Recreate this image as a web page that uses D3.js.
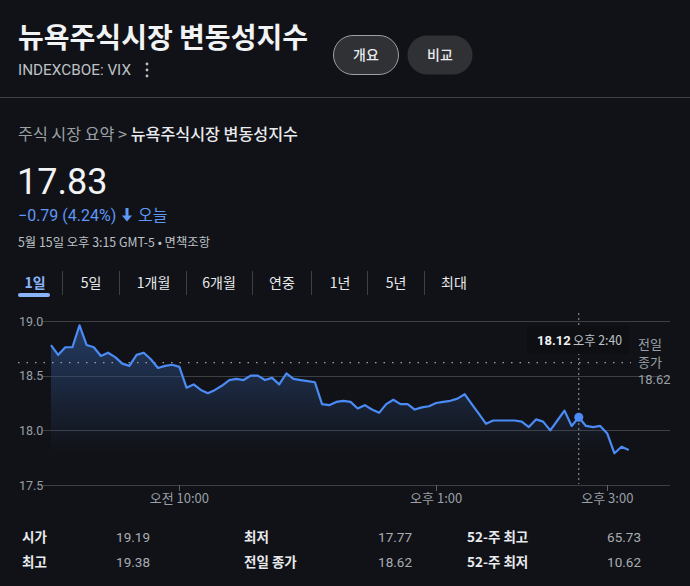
<!DOCTYPE html>
<html><head><meta charset="utf-8">
<script src="https://cdn.jsdelivr.net/npm/d3@7"></script>
<style>
html,body{margin:0;padding:0;background:#111217;}
svg{display:block;font-family:Roboto,"Noto Sans CJK KR",Arial,sans-serif;}
</style></head>
<body><svg id="c" width="690" height="586"></svg>
<script>
const times = ["08:30","08:35","08:40","08:45","08:50","08:55","09:00","09:05","09:10","09:15","09:20","09:25",
"09:30","09:35","09:40","09:45","09:50","09:55","10:00","10:05","10:10","10:15","10:20","10:25",
"10:30","10:35","10:40","10:45","10:50","10:55","11:00","11:05","11:10","11:15","11:20","11:25",
"11:30","11:35","11:40","11:45","11:50","11:55","12:00","12:05","12:10","12:15","12:20","12:25",
"12:30","12:35","12:40","12:45","12:50","12:55","13:00","13:05","13:10","13:15","13:20","13:25",
"13:30","13:35","13:40","13:45","13:50","13:55","14:00","14:05","14:10","14:15","14:20","14:25",
"14:30","14:35","14:40","14:45","14:50","14:55","15:00","15:05","15:10","15:15"];
const values = [18.78,18.69,18.76,18.76,18.96,18.78,18.76,18.68,18.71,18.67,18.61,18.59,
18.69,18.71,18.65,18.57,18.59,18.60,18.58,18.39,18.42,18.37,18.34,18.37,
18.41,18.46,18.47,18.46,18.50,18.50,18.46,18.48,18.42,18.52,18.47,18.46,
18.45,18.44,18.24,18.23,18.26,18.27,18.26,18.20,18.23,18.19,18.16,18.24,
18.28,18.24,18.24,18.19,18.21,18.22,18.25,18.26,18.27,18.29,18.33,18.24,
18.15,18.06,18.09,18.09,18.09,18.09,18.08,18.03,18.10,18.08,18.00,18.09,
18.18,18.04,18.12,18.04,18.03,18.04,17.97,17.79,17.85,17.82];
const yTicks = [17.5, 18.0, 18.5, 19.0];
const xTickTimes = ["10:00","13:00","15:00"];
const xTickLabels = ["오전 10:00","오후 1:00","오후 3:00"];
const prevClose = 18.62;
const hoverTime = "14:40";
const tabs = ["1일","5일","1개월","6개월","연중","1년","5년","최대"];
const statLabels = [["시가","최고"],["최저","전일 종가"],["52-주 최고","52-주 최저"]];
const statValues = [["19.19","19.38"],["17.77","18.62"],["65.73","10.62"]];

const svg = d3.select("#c");
const toMin = t => { const [h,m] = t.split(":").map(Number); return h*60+m; };
const data = times.map((t,i)=>({m:toMin(t), v:values[i]}));
const KR = "'Noto Sans CJK KR',sans-serif";

// Header
svg.append("text").attr("x",18).attr("y",48).attr("fill","#f1f3f4")
  .attr("font-size",28).attr("font-weight",700).attr("font-family",KR)
  .attr("textLength",290).attr("lengthAdjust","spacingAndGlyphs")
  .text("뉴욕주식시장 변동성지수");
svg.append("text").attr("x",18).attr("y",75).attr("fill","#bdc1c6").attr("font-size",14.5)
  .attr("textLength",113).attr("lengthAdjust","spacingAndGlyphs")
  .text("INDEXCBOE: VIX");
[64,70,76].forEach(y=>svg.append("circle").attr("cx",147).attr("cy",y).attr("r",1.4).attr("fill","#bdc1c6"));
const btns = [{x:333,t:"개요",b:true},{x:407,t:"비교",b:false}];
btns.forEach(d=>{
  svg.append("rect").attr("x",d.x+0.5).attr("y",35.5).attr("width",65).attr("height",39).attr("rx",19.5)
    .attr("fill","#303134").attr("stroke",d.b?"#9aa0a6":"none").attr("stroke-width",1);
  svg.append("text").attr("x",d.x+33).attr("y",60).attr("text-anchor","middle").attr("fill","#e8eaed")
    .attr("font-size",14).attr("font-weight",500).attr("font-family",KR).text(d.t);
});
svg.append("line").attr("x1",0).attr("x2",690).attr("y1",97.5).attr("y2",97.5).attr("stroke","#3c4043");

// Breadcrumb
const bc = svg.append("text").attr("x",18).attr("y",140).attr("font-size",16).attr("font-family",KR)
  .attr("textLength",280).attr("lengthAdjust","spacingAndGlyphs");
bc.append("tspan").attr("fill","#9aa0a6").text("주식 시장 요약 > ");
bc.append("tspan").attr("fill","#e8eaed").attr("font-weight",500).text("뉴욕주식시장 변동성지수");

svg.append("text").attr("x",17).attr("y",194).attr("fill","#f1f3f4").attr("font-size",36).text("17.83");
const ch = svg.append("text").attr("x",18).attr("y",221).attr("font-size",16).attr("fill","#5e97f6");
ch.append("tspan").text("−0.79 (4.24%)");
ch.append("tspan").attr("x",138).attr("font-family",KR).text("오늘");
// down arrow
svg.append("path").attr("fill","#5e97f6")
  .attr("d","M127,208 h3 v7.5 h3.6 l-5.1,6 l-5.1,-6 h3.6 z").attr("transform","translate(-1.5,0)");
svg.append("text").attr("x",18).attr("y",247).attr("fill","#bdc1c6").attr("font-size",12.5)
  .attr("font-family",KR).attr("textLength",192).attr("lengthAdjust","spacingAndGlyphs")
  .text("5월 15일 오후 3:15 GMT-5 • 면책조항");

// Tabs
const tabX = [35,91,153.5,219,282,340,396,454];
const sepX = [62,119,186,252,311,367,424];
tabs.forEach((t,i)=>svg.append("text").attr("x",tabX[i]).attr("y",288).attr("text-anchor","middle")
  .attr("font-size",14).attr("font-family",KR)
  .attr("fill", i===0?"#8ab4f8":"#e8eaed").attr("font-weight", i===0?700:400).text(t));
sepX.forEach(x=>svg.append("line").attr("x1",x+0.5).attr("x2",x+0.5).attr("y1",271).attr("y2",295).attr("stroke","#3c4043"));
svg.append("rect").attr("x",18).attr("y",293).attr("width",32).attr("height",4).attr("rx",2).attr("fill","#8ab4f8");

// Chart
const x = d3.scaleLinear().domain([toMin("08:30"), toMin("15:00")]).range([51, 607.3]);
const y = d3.scaleLinear().domain([17.5, 19.0]).range([485, 321]);
const gridG = svg.append("g");
yTicks.forEach(v=>{
  gridG.append("line").attr("x1",43).attr("x2",670).attr("y1",Math.round(y(v))+0.5).attr("y2",Math.round(y(v))+0.5)
    .attr("stroke","#3c4043").attr("stroke-width",1.2);
  gridG.append("text").attr("x",19).attr("y",y(v)+4.5).attr("fill","#9aa0a6").attr("font-size",12.5).text(d3.format(".1f")(v));
});
const defs = svg.append("defs");
const gr = defs.append("linearGradient").attr("id","ag").attr("gradientUnits","userSpaceOnUse")
  .attr("x1",0).attr("x2",0).attr("y1",y(19.0)).attr("y2",y(17.8));
gr.append("stop").attr("offset",0).attr("stop-color","#2c4c80").attr("stop-opacity",0.75);
gr.append("stop").attr("offset",1).attr("stop-color","#2c4c80").attr("stop-opacity",0);
svg.append("path").datum(data).attr("fill","url(#ag)")
  .attr("d", d3.area().x(d=>x(d.m)).y0(y(17.75)).y1(d=>y(d.v)));
svg.append("line").attr("x1",18).attr("x2",631).attr("y1",y(prevClose)).attr("y2",y(prevClose))
  .attr("stroke","#9aa0a6").attr("stroke-width",1.3).attr("stroke-dasharray","1.5,7");
const pc = svg.append("g").attr("font-size",13).attr("fill","#9aa0a6").attr("font-family",KR);
pc.append("text").attr("x",638).attr("y",349).text("전일");
pc.append("text").attr("x",638).attr("y",367).text("종가");
pc.append("text").attr("x",638).attr("y",384).attr("font-family","Roboto,sans-serif").text(d3.format(".2f")(prevClose));

svg.append("path").datum(data).attr("fill","none").attr("stroke","#4b8bf5").attr("stroke-width",2.2)
  .attr("stroke-linejoin","round").attr("d", d3.line().x(d=>x(d.m)).y(d=>y(d.v)));

xTickTimes.forEach((t,i)=>{
  const xx = Math.round(x(toMin(t)))+0.5;
  svg.append("line").attr("x1",xx).attr("x2",xx).attr("y1",485).attr("y2",491).attr("stroke","#5f6368");
  svg.append("text").attr("x",x(toMin(t))).attr("y",503).attr("text-anchor","middle").attr("fill","#9aa0a6")
    .attr("font-size",13).attr("font-family","'Noto Sans CJK KR',Roboto,sans-serif").text(xTickLabels[i]);
});

const hd = data.find(d=>d.m===toMin(hoverTime));
const hx = x(hd.m);
svg.append("line").attr("x1",hx).attr("x2",hx).attr("y1",313).attr("y2",484).attr("stroke","#9aa0a6")
  .attr("stroke-dasharray","2,3").attr("stroke-width",1);
svg.append("rect").attr("x",527).attr("y",326).attr("width",102).attr("height",28).attr("fill","#0e0f13");
svg.append("text").attr("x",537).attr("y",345).attr("fill","#f1f3f4").attr("font-size",13).attr("font-weight",700)
  .text(d3.format(".2f")(hd.v));
svg.append("text").attr("x",573).attr("y",345).attr("fill","#bdc1c6").attr("font-size",13)
  .attr("font-family","'Noto Sans CJK KR',Roboto,sans-serif").attr("textLength",49).attr("lengthAdjust","spacingAndGlyphs")
  .text("오후 2:40");
svg.append("circle").attr("cx",hx).attr("cy",y(hd.v)).attr("r",4.5).attr("fill","#4b8bf5");

const labX = [22,244,467], valX = [150,412,641], rowY = [542,567];
statLabels.forEach((col,ci)=>col.forEach((lab,ri)=>{
  svg.append("text").attr("x",labX[ci]).attr("y",rowY[ri]).attr("fill","#e8eaed").attr("font-size",13.5)
    .attr("font-weight",700).attr("font-family",KR).text(lab);
  svg.append("text").attr("x",valX[ci]).attr("y",rowY[ri]).attr("text-anchor","end").attr("fill","#a9adb3")
    .attr("font-size",13.5).text(statValues[ci][ri]);
}));
</script></body></html>
